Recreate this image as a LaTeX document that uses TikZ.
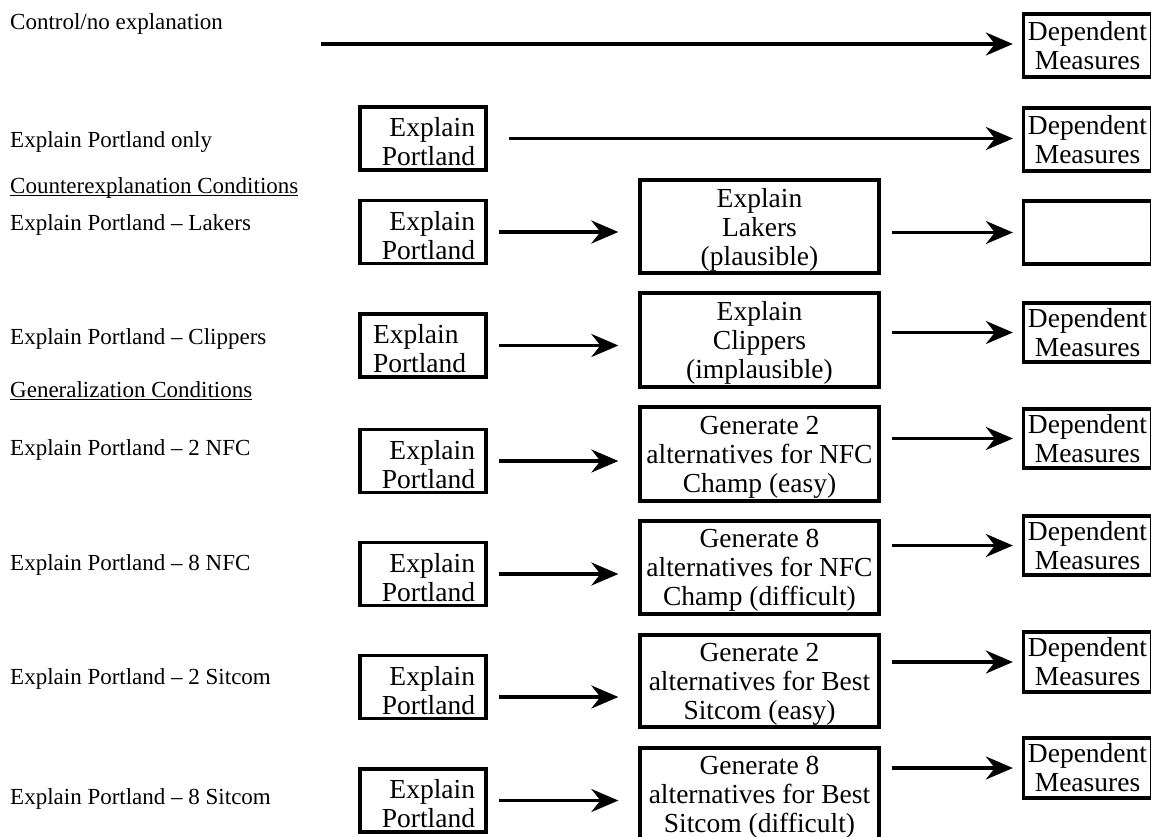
\documentclass[tikz,border=0pt]{standalone}
\usepackage{fontspec}
\setmainfont{Liberation Serif}
\usetikzlibrary{arrows.meta}

\begin{document}
\begin{tikzpicture}[x=1pt,y=-1pt]
	\tikzstyle{every node}+=[inner sep=0pt]
	\tikzstyle{lbl}=[anchor=west, font=\fontsize{23}{27}\selectfont, text height=16pt, text depth=5pt]
	\tikzstyle{box}=[draw, black, line width=3.3pt, font=\fontsize{27.5}{29}\selectfont]
	\tikzstyle{pbox}=[box, minimum height=63pt, text width=104pt, inner xsep=11pt, align=right, text height=26pt]
	\tikzstyle{mbox}=[box, minimum width=239pt, align=center, text depth=-7pt]
	\tikzstyle{dbox}=[box, minimum width=128pt, align=center]
	\tikzstyle{arr}=[line width=3.3pt, -{Stealth[length=27pt,width=23pt,inset=9pt]}]
	\useasboundingbox (0,0) rectangle (1151,837);
	% condition labels
	\node [lbl] (l0) at (10,24) {Control/no explanation};
	\node [lbl] (l1) at (10,142) {Explain Portland only};
	\node [lbl] (h1) at (10,188) {\underline{\smash{Counterexplanation Conditions}}};
	\node [lbl] (l2) at (10,225) {Explain Portland -- Lakers};
	\node [lbl] (l3) at (10,339) {Explain Portland -- Clippers};
	\node [lbl] (h2) at (10,392) {\underline{\smash{Generalization Conditions}}};
	\node [lbl] (l4) at (10,450) {Explain Portland -- 2 NFC};
	\node [lbl] (l5) at (10,565) {Explain Portland -- 8 NFC};
	\node [lbl] (l6) at (10,679) {Explain Portland -- 2 Sitcom};
	\node [lbl] (l7) at (10,799) {Explain Portland -- 8 Sitcom};
	% first step
	\node [pbox] (p1) at (423,138.5) {Explain\\Portland};
	\node [pbox] (p2) at (423,232) {Explain\\Portland};
	\node [pbox, text width=100pt, inner xsep=13pt, align=left] (p3) at (423,345.5) {Explain\\Portland};
	\node [pbox] (p4) at (423,461) {Explain\\Portland};
	\node [pbox] (p5) at (423,574) {Explain\\Portland};
	\node [pbox] (p6) at (423,687) {Explain\\Portland};
	\node [pbox] (p7) at (423,800.5) {Explain\\Portland};
	% second step
	\node [mbox, minimum height=93pt] (m2) at (759.5,226.5) {Explain\\Lakers\\(plausible)};
	\node [mbox, minimum height=94pt] (m3) at (759.5,340) {Explain\\Clippers\\(implausible)};
	\node [mbox, minimum height=94pt] (m4) at (759.5,454) {Generate 2\\alternatives for NFC\\Champ (easy)};
	\node [mbox, minimum height=93pt] (m5) at (759.5,567.5) {Generate 8\\alternatives for NFC\\Champ (difficult)};
	\node [mbox, minimum height=92pt] (m6) at (759.5,681) {Generate 2\\alternatives for Best\\Sitcom (easy)};
	\node [mbox, minimum height=93pt] (m7) at (759.5,794.5) {Generate 8\\alternatives for Best\\Sitcom (difficult)};
	% dependent measures
	\node [dbox, minimum height=63pt] (d0) at (1087.5,45.5) {Dependent\\Measures};
	\node [dbox, minimum height=63pt] (d1) at (1087.5,139.5) {Dependent\\Measures};
	\node [dbox, minimum height=63pt] (d2) at (1087.5,232.5) {};
	\node [dbox, minimum height=59pt] (d3) at (1087.5,332.5) {Dependent\\Measures};
	\node [dbox, minimum height=59pt] (d4) at (1087.5,438.5) {Dependent\\Measures};
	\node [dbox, minimum height=59pt] (d5) at (1087.5,545.5) {Dependent\\Measures};
	\node [dbox, minimum height=60pt] (d6) at (1087.5,662) {Dependent\\Measures};
	\node [dbox, minimum height=60pt] (d7) at (1087.5,768) {Dependent\\Measures};
	\coordinate (c0) at (321,44);
	% arrows
	\draw [arr, shorten >=9pt] (c0) -- (c0 -| d0.west);
	\draw [arr, shorten <=21pt, shorten >=9pt] (p1.east) -- (p1.east -| d1.west);
	\draw [arr, shorten <=11pt, shorten >=20pt] (p2.east) -- (p2.east -| m2.west);
	\draw [arr, shorten <=11pt, shorten >=20pt] (p3.east) -- (p3.east -| m3.west);
	\draw [arr, shorten <=11pt, shorten >=20pt] (p4.east) -- (p4.east -| m4.west);
	\draw [arr, shorten <=11pt, shorten >=20pt] (p5.east) -- (p5.east -| m5.west);
	\draw [arr, shorten <=11pt, shorten >=20pt] ([yshift=-10pt]p6.east) -- ([yshift=-10pt]p6.east -| m6.west);
	\draw [arr, shorten <=11pt, shorten >=20pt] (p7.east) -- (p7.east -| m7.west);
	\draw [arr, shorten <=11pt, shorten >=9pt] (m2.east |- d2.west) -- (d2.west);
	\draw [arr, shorten <=11pt, shorten >=9pt] (m3.east |- d3.west) -- (d3.west);
	\draw [arr, shorten <=11pt, shorten >=9pt] (m4.east |- d4.west) -- (d4.west);
	\draw [arr, shorten <=11pt, shorten >=9pt] (m5.east |- d5.west) -- (d5.west);
	\draw [arr, shorten <=11pt, shorten >=9pt] (m6.east |- d6.west) -- (d6.west);
	\draw [arr, shorten <=11pt, shorten >=9pt] (m7.east |- d7.west) -- (d7.west);
\end{tikzpicture}
\end{document}
